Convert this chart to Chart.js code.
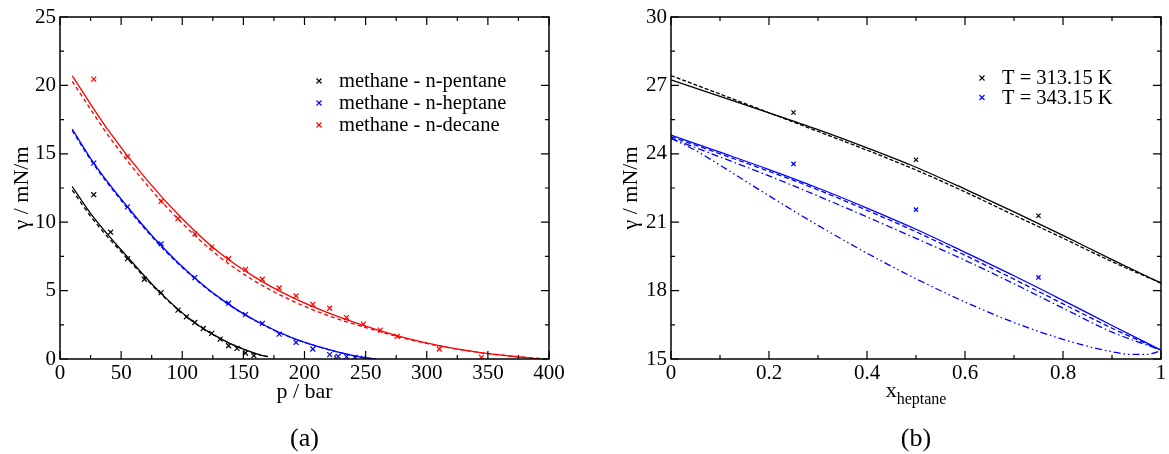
<!DOCTYPE html>
<html>
<head>
<meta charset="utf-8">
<script src="https://cdn.jsdelivr.net/npm/chart.js@4.4.1/dist/chart.umd.min.js"></script>
<style>
  body { margin: 0; width: 1169px; height: 454px; background: #fff; position: relative; overflow: hidden; }
  canvas { position: absolute; top: 0; }
  #chartA { left: 0; }
  #chartB { left: 590px; }
</style>
</head>
<body>
<canvas id="chartA" width="590" height="454"></canvas>
<canvas id="chartB" width="579" height="454"></canvas>
<script>
// Panel (a): measured surface tension (mN/m) against pressure (bar)
const pentaneP = [27.6, 41.4, 55.2, 69.0, 82.7, 96.5, 103.4, 110.3, 117.2, 124.1, 131.0, 137.9, 144.8, 151.7, 158.6];
const pentaneGamma = [12.01, 9.27, 7.33, 5.83, 4.85, 3.57, 3.08, 2.67, 2.23, 1.87, 1.46, 0.97, 0.78, 0.44, 0.24];
const heptaneP = [27.6, 55.2, 82.7, 110.3, 137.9, 151.7, 165.5, 179.3, 193.1, 206.8, 220.6, 227.5, 234.4, 241.3, 248.2];
const heptaneGamma = [14.32, 11.12, 8.42, 5.95, 4.08, 3.25, 2.6, 1.82, 1.21, 0.73, 0.32, 0.19, 0.17, 0.12, 0.05];
const decaneP = [27.6, 55.2, 82.7, 96.5, 110.3, 124.1, 137.9, 151.7, 165.5, 179.3, 193.1, 206.8, 220.6, 234.4, 248.2, 262.0, 275.8, 310.3, 344.7];
const decaneGamma = [20.46, 14.8, 11.53, 10.27, 9.15, 8.18, 7.33, 6.55, 5.83, 5.19, 4.61, 4.0, 3.71, 3.03, 2.55, 2.11, 1.65, 0.73, 0.12];

// Panel (a): model curves (solid and dashed)
const pentaneModelP = [10, 27, 55, 82, 109, 136, 150, 164, 170];
const pentaneModel = [12.6, 10.4, 7.48, 4.85, 2.73, 1.27, 0.72, 0.29, 0.17];
const pentaneModel2 = [12.35, 10.2, 7.35, 4.8, 2.72, 1.27, 0.72, 0.29, 0.17];
const heptaneModelP = [10, 27, 55, 82, 109, 136, 164, 191, 213, 230, 245, 258];
const heptaneModel = [16.8, 14.4, 11.15, 8.35, 6.02, 4.12, 2.61, 1.51, 0.86, 0.45, 0.15, 0.0];
const heptaneModel2 = [16.7, 14.3, 11.05, 8.28, 5.97, 4.09, 2.59, 1.5, 0.85, 0.44, 0.15, 0.0];
const decaneModelP = [10, 40, 70, 100, 130, 160, 190, 220, 250, 280, 310, 340, 370, 390];
const decaneModel = [20.7, 16.65, 13.2, 10.25, 7.8, 5.95, 4.5, 3.35, 2.4, 1.6, 0.98, 0.52, 0.2, 0.03];
const decaneModel2P = [10, 40, 70, 100, 130, 160, 190, 220, 250, 280, 310, 340, 370, 398];
const decaneModel2 = [20.3, 16.28, 12.85, 9.92, 7.5, 5.66, 4.25, 3.15, 2.3, 1.55, 0.96, 0.52, 0.2, 0.0];

// Panel (b): surface tension against heptane mole fraction
const xExp = [0.25, 0.5, 0.75];
const exp313 = [25.81, 23.74, 21.28];
const exp343 = [23.56, 21.55, 18.58];
const xHeptane = [0, 0.1, 0.2, 0.3, 0.4, 0.5, 0.6, 0.7, 0.8, 0.9, 1.0];
const gamma313 = [27.24, 26.52, 25.8, 25.06, 24.26, 23.41, 22.45, 21.45, 20.42, 19.36, 18.33];
const gamma313b = [27.43, 26.62, 25.8, 24.98, 24.16, 23.29, 22.33, 21.31, 20.3, 19.27, 18.33];
const gamma343 = [24.82, 24.07, 23.31, 22.5, 21.62, 20.69, 19.68, 18.65, 17.57, 16.47, 15.39];
const gamma343b = [24.75, 24.0, 23.23, 22.42, 21.52, 20.58, 19.55, 18.5, 17.42, 16.35, 15.39];
const gamma343c = [24.68, 23.86, 23.03, 22.15, 21.23, 20.29, 19.33, 18.3, 17.23, 16.18, 15.39];
const xLow = [0, 0.05, 0.1, 0.15, 0.2, 0.25, 0.3, 0.4, 0.5, 0.6, 0.7, 0.8, 0.85, 0.9, 0.94, 0.97, 1.0];
const gamma343d = [24.68, 24.15, 23.5, 22.83, 22.16, 21.5, 20.86, 19.64, 18.52, 17.5, 16.6, 15.86, 15.56, 15.32, 15.2, 15.2, 15.36];

const SERIF = "'Liberation Serif', 'Times New Roman', serif";

// Turn two arrays into {x, y} points
function pts(xs, ys) {
    return xs.map((x, i) => ({ x: x, y: ys[i] }));
}

function marks(label, xs, ys, color, r) {
    return {
        label: label, data: pts(xs, ys), showLine: false,
        pointStyle: 'crossRot', pointRadius: r, pointBorderWidth: 1.2,
        borderColor: color, backgroundColor: color, inLegend: true
    };
}

function curve(xs, ys, color, dash) {
    return {
        data: pts(xs, ys), showLine: true, pointRadius: 0,
        borderColor: color, borderWidth: 1.3, borderDash: dash || [],
        cubicInterpolationMode: 'monotone', fill: false
    };
}

// Frame with inward ticks, titles and the small legend
const framePlugin = {
    id: 'frame',
    afterDatasetsDraw(chart, args, opts) {
        const { ctx, chartArea: a, scales: { x, y } } = chart;
        ctx.save();
        ctx.strokeStyle = '#000';
        ctx.lineWidth = 1.5;
        ctx.strokeRect(a.left, a.top, a.right - a.left, a.bottom - a.top);
        ctx.lineWidth = 1.2;
        ctx.beginPath();
        const xt = x.ticks.map(t => t.value);
        xt.forEach((v, i) => {
            const list = [[x.getPixelForValue(v), 8]];
            if (i < xt.length - 1) list.push([x.getPixelForValue((v + xt[i + 1]) / 2), 4]);
            list.forEach(([px, len]) => {
                ctx.moveTo(px, a.bottom); ctx.lineTo(px, a.bottom - len);
                ctx.moveTo(px, a.top); ctx.lineTo(px, a.top + len);
            });
        });
        const yt = y.ticks.map(t => t.value);
        yt.forEach((v, i) => {
            const list = [[y.getPixelForValue(v), 8]];
            if (i < yt.length - 1) list.push([y.getPixelForValue((v + yt[i + 1]) / 2), 4]);
            list.forEach(([py, len]) => {
                ctx.moveTo(a.left, py); ctx.lineTo(a.left + len, py);
                ctx.moveTo(a.right, py); ctx.lineTo(a.right - len, py);
            });
        });
        ctx.stroke();

        // legend
        const lg = opts.legend;
        let row = 0;
        chart.data.datasets.forEach(ds => {
            if (!ds.inLegend) return;
            const cy = lg.y + row * lg.dy;
            ctx.strokeStyle = ds.borderColor;
            ctx.lineWidth = 1.1;
            ctx.beginPath();
            ctx.moveTo(lg.x - 2.5, cy - 2.5); ctx.lineTo(lg.x + 2.5, cy + 2.5);
            ctx.moveTo(lg.x - 2.5, cy + 2.5); ctx.lineTo(lg.x + 2.5, cy - 2.5);
            ctx.stroke();
            ctx.fillStyle = '#000';
            ctx.font = '20.5px ' + SERIF;
            ctx.textAlign = 'left';
            ctx.textBaseline = 'middle';
            ctx.fillText(ds.label, lg.textX, cy + 1);
            row++;
        });
        ctx.restore();
    },
    afterDraw(chart, args, opts) {
        const { ctx, chartArea: a } = chart;
        const cx = (a.left + a.right) / 2;
        const cy = (a.top + a.bottom) / 2;
        ctx.save();
        ctx.fillStyle = '#000';
        ctx.font = '22px ' + SERIF;
        ctx.textBaseline = 'middle';
        ctx.textAlign = 'center';
        // y title
        ctx.save();
        ctx.translate(opts.yTitleX, cy);
        ctx.rotate(-Math.PI / 2);
        ctx.fillText(opts.yTitle, 0, 0);
        ctx.restore();
        // x title, optionally with a subscript
        ctx.textBaseline = 'alphabetic';
        if (opts.xSub) {
            ctx.textAlign = 'left';
            const w1 = ctx.measureText(opts.xTitle).width;
            ctx.font = '16px ' + SERIF;
            const w2 = ctx.measureText(opts.xSub).width;
            const x0 = cx - (w1 + w2) / 2;
            ctx.fillText(opts.xSub, x0 + w1, opts.xTitleY + 7);
            ctx.font = '22px ' + SERIF;
            ctx.fillText(opts.xTitle, x0, opts.xTitleY);
        } else {
            ctx.fillText(opts.xTitle, cx, opts.xTitleY);
        }
        // panel tag
        ctx.textAlign = 'center';
        ctx.font = '26px ' + SERIF;
        ctx.fillText(opts.tag, cx, 446);
        ctx.restore();
    }
};

function axes(xMin, xMax, xStep, yMin, yMax, yStep, leftWidth) {
    const tickFont = { family: SERIF, size: 21 };
    return {
        x: {
            type: 'linear', min: xMin, max: xMax,
            ticks: { stepSize: xStep, font: tickFont, color: '#000', padding: 2, maxRotation: 0,
                     callback: v => String(+v.toFixed(2)) },
            grid: { display: false, drawTicks: false },
            border: { display: false },
            afterFit: s => { s.height = 95; }
        },
        y: {
            type: 'linear', min: yMin, max: yMax,
            ticks: { stepSize: yStep, font: tickFont, color: '#000', padding: 4,
                     callback: v => String(+v.toFixed(2)) },
            grid: { display: false, drawTicks: false },
            border: { display: false },
            afterFit: s => { s.width = leftWidth; }
        }
    };
}

new Chart(document.getElementById('chartA'), {
    type: 'scatter',
    data: {
        datasets: [
            marks('methane - n-pentane', pentaneP, pentaneGamma, '#000', 3.5),
            marks('methane - n-heptane', heptaneP, heptaneGamma, '#0000ff', 3.5),
            marks('methane - n-decane', decaneP, decaneGamma, '#ff0000', 3.5),
            curve(pentaneModelP, pentaneModel, '#000'),
            curve(pentaneModelP, pentaneModel2, '#000', [4, 3]),
            curve(heptaneModelP, heptaneModel, '#0000ff'),
            curve(heptaneModelP, heptaneModel2, '#0000ff', [4, 3]),
            curve(decaneModelP, decaneModel, '#ff0000'),
            curve(decaneModel2P, decaneModel2, '#ff0000', [4, 3])
        ]
    },
    options: {
        responsive: false,
        animation: false,
        layout: { padding: { left: 0, top: 17, right: 41, bottom: 0 } },
        scales: axes(0, 400, 50, 0, 25, 5, 60),
        plugins: {
            legend: { display: false },
            tooltip: { enabled: false },
            frame: {
                yTitle: 'γ / mN/m', yTitleX: 22,
                xTitle: 'p / bar', xTitleY: 398,
                tag: '(a)',
                legend: { x: 319, y: 81, dy: 22, textX: 339 }
            }
        }
    },
    plugins: [framePlugin]
});

new Chart(document.getElementById('chartB'), {
    type: 'scatter',
    data: {
        datasets: [
            marks('T = 313.15 K', xExp, exp313, '#000', 3),
            marks('T = 343.15 K', xExp, exp343, '#0000ff', 3),
            curve(xHeptane, gamma313, '#000'),
            curve(xHeptane, gamma313b, '#000', [4, 2]),
            curve(xHeptane, gamma343, '#0000ff'),
            curve(xHeptane, gamma343b, '#0000ff', [5, 3]),
            curve(xHeptane, gamma343c, '#0000ff', [7, 3, 1.5, 3]),
            curve(xLow, gamma343d, '#0000ff', [7, 3, 1.5, 3, 1.5, 3])
        ]
    },
    options: {
        responsive: false,
        animation: false,
        layout: { padding: { left: 0, top: 17, right: 8, bottom: 0 } },
        scales: axes(0, 1, 0.2, 15, 30, 3, 81),
        plugins: {
            legend: { display: false },
            tooltip: { enabled: false },
            frame: {
                yTitle: 'γ / mN/m', yTitleX: 41,
                xTitle: 'x', xSub: 'heptane', xTitleY: 397,
                tag: '(b)',
                legend: { x: 392, y: 78, dy: 19.5, textX: 412 }
            }
        }
    },
    plugins: [framePlugin]
});
</script>
</body>
</html>
